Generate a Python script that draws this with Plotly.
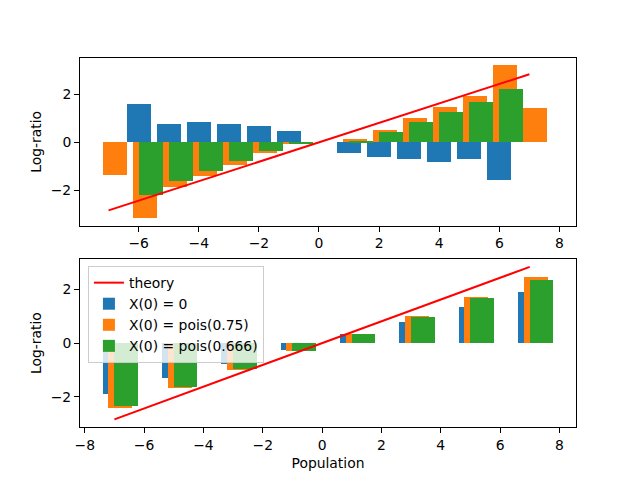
import plotly.graph_objects as go
from plotly.subplots import make_subplots

# ---- data (top panel) ----
top_blue_x = [-6, -5, -4, -3, -2, -1, 1, 2, 3, 4, 5, 6]
top_blue_y = [1.62, 0.75, 0.83, 0.75, 0.67, 0.46, -0.46, -0.62, -0.71, -0.83, -0.71, -1.58]
top_orange_x = [-7, -6, -5, -4, -3, -2, -1, 1, 2, 3, 4, 5, 6, 7]
top_orange_y = [-1.36, -3.15, -1.86, -1.40, -0.94, -0.44, -0.07, 0.12, 0.50, 1.00, 1.46, 1.92, 3.21, 1.42]
top_green_x = [-7, -6, -5, -4, -3, -2, -1, 1, 2, 3, 4, 5, 6, 7]
top_green_y = [0.0, -2.19, -1.62, -1.21, -0.79, -0.37, -0.05, 0.04, 0.42, 0.83, 1.25, 1.67, 2.21, 0.0]

# ---- data (bottom panel) ----
bot_x = [-7, -5, -3, -1, 1, 3, 5, 7]
bot_blue_y = [-1.91, -1.32, -0.77, -0.25, 0.33, 0.78, 1.33, 1.89]
bot_orange_y = [-2.43, -1.69, -1.02, -0.32, 0.33, 1.00, 1.70, 2.44]
bot_green_y = [-2.36, -1.65, -0.99, -0.32, 0.33, 0.96, 1.67, 2.33]

theory_x = [-7, 7]
theory_y = [-2.84, 2.84]

names = ["X(0) = 0", "X(0) = pois(0.75)", "X(0) = pois(0.666)"]
colors = ["#1f77b4", "#ff7f0e", "#2ca02c"]
offsets = [-0.4, -0.2, 0.0]
BAR_W = 0.8

fig = make_subplots(rows=2, cols=1, vertical_spacing=0.0909)

# theory lines
fig.add_trace(go.Scatter(x=theory_x, y=theory_y, mode="lines", name="theory",
                         line=dict(color="red", width=2), showlegend=False), row=1, col=1)
fig.add_trace(go.Scatter(x=theory_x, y=theory_y, mode="lines", name="theory",
                         line=dict(color="red", width=2), showlegend=True), row=2, col=1)

top_sets = [(top_blue_x, top_blue_y), (top_orange_x, top_orange_y), (top_green_x, top_green_y)]
for (xs, ys), nm, c, off in zip(top_sets, names, colors, offsets):
    fig.add_trace(go.Bar(x=xs, y=ys, width=BAR_W, offset=off, marker=dict(color=c, line=dict(width=0)),
                         name=nm, showlegend=False), row=1, col=1)

bot_sets = [bot_blue_y, bot_orange_y, bot_green_y]
for ys, nm, c, off in zip(bot_sets, names, colors, offsets):
    fig.add_trace(go.Bar(x=bot_x, y=ys, width=BAR_W, offset=off, marker=dict(color=c, line=dict(width=0)),
                         name=nm, showlegend=True), row=2, col=1)

font = dict(family="DejaVu Sans", size=13.9, color="black")
axis_common = dict(showgrid=False, zeroline=False, showline=True, linecolor="black", linewidth=1,
                   mirror=True, ticks="outside", ticklen=5, tickwidth=1, tickcolor="black",
                   tickfont=font, automargin=False)

fig.update_xaxes(**axis_common)
fig.update_yaxes(**axis_common)
fig.update_xaxes(range=[-7.95, 8.55], tickmode="array", tickvals=[-6, -4, -2, 0, 2, 4, 6, 8],
                 ticktext=["\u22126", "\u22124", "\u22122", "0", "2", "4", "6", "8"], row=1, col=1)
fig.update_xaxes(range=[-8.16, 8.56], tickmode="array", tickvals=[-8, -6, -4, -2, 0, 2, 4, 6, 8],
                 ticktext=["\u22128", "\u22126", "\u22124", "\u22122", "0", "2", "4", "6", "8"],
                 title=dict(text="Population", font=font, standoff=6), row=2, col=1)
fig.update_yaxes(range=[-3.48, 3.52], tickmode="array", tickvals=[-2, 0, 2],
                 ticktext=["\u22122", "0", "2"], title=dict(text="Log-ratio", font=font, standoff=5),
                 row=1, col=1)
fig.update_yaxes(range=[-3.124, 3.124], tickmode="array", tickvals=[-2, 0, 2],
                 ticktext=["\u22122", "0", "2"], title=dict(text="Log-ratio", font=font, standoff=5),
                 row=2, col=1)

fig.update_layout(
    width=640, height=480,
    margin=dict(l=80, r=64, t=57.6, b=52.8),
    paper_bgcolor="white", plot_bgcolor="white",
    barmode="overlay", bargap=0,
    font=font,
    legend=dict(x=0.016, y=0.436, xanchor="left", yanchor="top",
                bgcolor="rgba(255,255,255,0.8)", bordercolor="#cccccc", borderwidth=1,
                font=font, traceorder="normal", tracegroupgap=0),
)

fig.write_html("out.html", config={"displayModeBar": False},
               post_script="document.body.style.margin='0';")
